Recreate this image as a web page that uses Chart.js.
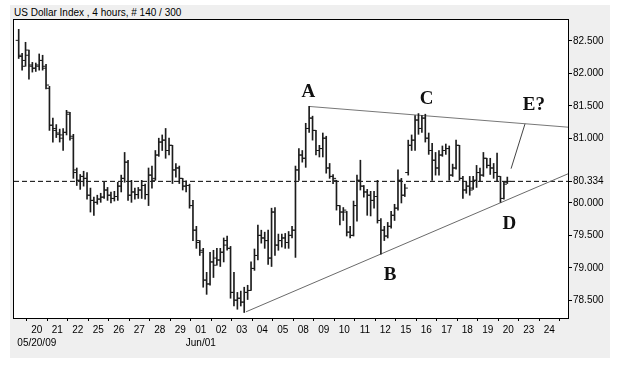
<!DOCTYPE html>
<html>
<head>
<meta charset="utf-8">
<script src="https://cdn.jsdelivr.net/npm/chart.js@4.4.0/dist/chart.umd.min.js"></script>
<style>
  html, body { margin: 0; padding: 0; background: #fff; }
  #wrap { position: relative; width: 617px; height: 365px; }
  #panel { position: absolute; left: 10px; top: 5px; width: 600px; height: 353px; background: #efefef; }
  #title { position: absolute; left: 14px; top: 7px; font: 10px "Liberation Sans", Arial, sans-serif; line-height: 12px; color: #000; white-space: pre; }
  canvas { position: absolute; left: 0; top: 0; }
</style>
</head>
<body>
<div id="wrap">
  <div id="panel"></div>
  <div id="title">US Dollar Index , 4 hours, # 140 / 300</div>
  <canvas id="c" width="617" height="365"></canvas>
</div>
<script>
// 4-hour OHLC bars, one entry per bar (oldest first)
const open = [
  82.51,82.26,82.20,82.28,82.11,82.08,82.11,82.20,82.08,81.77,
  81.20,81.12,81.06,81.00,81.09,81.37,81.00,80.47,80.35,80.41,
  80.38,80.12,80.04,80.01,80.06,80.09,80.20,80.12,80.07,80.10,
  80.26,80.38,80.63,80.12,80.17,80.13,80.20,80.27,80.13,80.43,
  80.38,80.74,80.94,80.97,80.81,80.89,80.51,80.54,80.38,80.26,
  80.27,79.96,79.58,79.39,79.24,78.81,78.75,79.09,79.15,79.12,
  79.24,79.42,79.30,78.62,78.50,78.53,78.47,78.62,78.65,78.99,
  79.19,79.50,79.46,79.42,79.15,79.86,79.35,79.42,79.46,79.39,
  79.50,79.58,80.51,80.74,80.69,81.15,81.31,81.12,80.81,80.84,
  81.00,80.54,80.41,80.35,79.96,79.86,79.86,79.55,79.50,79.96,
  80.35,80.26,80.17,80.12,80.04,80.10,79.73,79.58,79.49,79.64,
  79.81,79.92,80.35,80.12,80.47,80.89,80.97,81.28,81.15,81.31,
  81.00,80.81,80.66,80.54,80.74,80.81,80.84,80.43,80.54,80.89,
  80.38,80.20,80.26,80.23,80.35,80.47,80.43,80.69,80.58,80.54,
  80.47,80.41,80.07,80.32
];
const high = [
  82.68,82.31,82.48,82.36,82.17,82.16,82.30,82.28,82.14,81.80,
  81.31,81.21,81.14,81.15,81.43,81.40,81.06,80.54,80.44,80.49,
  80.47,80.23,80.09,80.12,80.15,80.32,80.24,80.17,80.18,80.32,
  80.43,80.78,80.66,80.35,80.23,80.24,80.35,80.29,80.54,80.57,
  80.81,81.00,81.05,81.15,81.00,80.89,80.61,80.57,80.38,80.34,
  80.29,80.04,79.64,79.42,79.30,78.93,79.24,79.27,79.30,79.30,
  79.46,79.49,79.33,78.93,78.62,78.64,78.70,78.73,79.09,79.29,
  79.66,79.58,79.55,79.58,79.92,79.93,79.52,79.52,79.53,79.56,
  79.64,80.57,80.84,80.81,81.23,81.49,81.34,81.12,80.89,81.08,
  81.03,80.61,80.44,80.35,79.96,79.93,79.87,79.64,80.03,80.43,
  80.66,80.27,80.21,80.18,80.18,80.35,79.76,79.64,79.70,79.87,
  79.98,80.51,80.38,80.29,80.97,81.05,81.35,81.38,81.35,81.37,
  81.08,80.92,80.78,80.81,80.88,80.91,80.88,80.60,80.97,80.89,
  80.41,80.32,80.41,80.41,80.58,80.54,80.78,80.69,80.69,80.61,
  80.77,80.41,80.33,80.40
];
const low = [
  82.23,82.05,82.11,81.91,82.02,82.03,82.05,82.05,81.76,81.12,
  80.94,81.01,80.94,80.81,81.05,80.97,80.38,80.27,80.21,80.26,
  80.06,79.86,79.81,79.98,80.01,80.07,80.04,80.00,80.03,80.04,
  80.17,80.32,80.04,80.01,80.06,80.07,80.07,80.06,79.96,80.23,
  80.35,80.72,80.81,80.69,80.74,80.30,80.40,80.30,80.20,80.17,
  79.92,79.42,79.30,79.19,78.70,78.59,78.73,78.85,79.04,79.02,
  79.09,79.27,78.53,78.41,78.36,78.41,78.31,78.51,78.65,78.96,
  79.12,79.38,79.30,79.05,79.02,79.19,79.27,79.32,79.30,79.30,
  79.46,79.16,80.35,80.63,80.55,81.09,80.97,80.74,80.71,80.71,
  80.46,80.38,80.30,79.89,79.66,79.73,79.49,79.46,79.49,79.72,
  80.20,80.09,79.81,79.80,79.92,79.69,79.21,79.42,79.46,79.61,
  79.73,79.89,80.00,80.10,80.43,80.81,80.81,81.06,81.09,80.94,
  80.75,80.35,80.43,80.43,80.72,80.75,80.35,80.41,80.52,80.35,
  80.07,80.15,80.12,80.21,80.24,80.33,80.41,80.54,80.44,80.38,
  80.33,80.01,80.06,80.30
];
const close = [
  82.28,82.11,82.36,82.13,82.08,82.13,82.20,82.11,81.82,81.20,
  81.15,81.08,81.05,81.09,81.40,81.03,80.51,80.35,80.41,80.38,
  80.12,80.04,80.01,80.06,80.09,80.20,80.12,80.07,80.10,80.26,
  80.38,80.63,80.12,80.17,80.13,80.20,80.27,80.13,80.43,80.35,
  80.74,80.94,80.97,80.81,80.89,80.51,80.54,80.38,80.26,80.27,
  79.96,79.58,79.42,79.27,78.81,78.75,79.09,79.04,79.12,79.24,
  79.35,79.30,78.62,78.50,78.53,78.47,78.62,78.65,78.99,79.19,
  79.50,79.46,79.42,79.15,79.86,79.35,79.42,79.46,79.39,79.50,
  79.58,80.51,80.74,80.69,81.15,81.31,81.12,80.81,80.84,81.00,
  80.54,80.41,80.38,79.96,79.86,79.89,79.55,79.50,79.96,80.35,
  80.26,80.17,80.12,80.04,80.10,79.73,79.58,79.49,79.64,79.81,
  79.92,80.35,80.12,80.23,80.89,80.97,81.28,81.15,81.31,81.00,
  80.81,80.66,80.54,80.74,80.81,80.84,80.43,80.54,80.89,80.38,
  80.20,80.26,80.20,80.35,80.47,80.43,80.69,80.58,80.54,80.47,
  80.41,80.07,80.29,80.334
];

// Time axis: trading days, six 4-hour bars per day
const dayLabels = ['20','21','22','25','26','27','28','29','01','02','03','04','05',
                   '08','09','10','11','12','15','16','17','18','19','20','23','24'];
const dateLabels = { 0: '05/20/09', 8: 'Jun/01' };
const barsPerDay = 6;
const firstDayPos = 5.3;
const xMin = -1.375;
const xMax = 160.76;

// Price axis
const yTicks = [78.5, 79, 79.5, 80, 80.334, 81, 81.5, 82, 82.5];
const yMin = 78.225;
const yMax = 82.824;
const lastPrice = 80.334;

// Triangle boundaries and projected E leg: [bar position, price]
const upperLine = [[85, 81.49], [160.76, 81.17]];
const lowerLine = [[66.5, 78.32], [160.76, 80.45]];
const eLegLine  = [[144.1, 80.53], [148.2, 81.225]];

// Wave labels
const waveLabels = ['A', 'B', 'C', 'D', 'E?'];
const waveX = [84.75, 108.66, 119.4, 143.6, 150.75];
const waveY = [81.71, 78.88, 81.60, 79.68, 81.51];

const FONT = '"Liberation Sans", Arial, sans-serif';
const BAR_COLOR = '#1c1c1c';
const TICK_OFFSET = 0.45;

const toPoints = arr => arr.map(([x, y]) => ({ x, y }));

const ranges = high.map((h, i) => ({ x: i, y: [low[i], h] }));
const openTicks = open.map((v, i) => ({ x: i - TICK_OFFSET, y: v }));
const closeTicks = close.map((v, i) => ({ x: i + TICK_OFFSET, y: v }));

const tickDataset = (data) => ({
  type: 'line',
  data,
  showLine: false,
  pointStyle: 'line',
  pointRadius: 1.5,
  pointHoverRadius: 1.5,
  pointBorderWidth: 1,
  pointBorderColor: BAR_COLOR,
  pointBackgroundColor: BAR_COLOR
});

const lineDataset = (data, color, dash) => ({
  type: 'line',
  data,
  borderColor: color,
  borderWidth: 1,
  borderDash: dash || [],
  pointRadius: 0,
  pointHoverRadius: 0,
  fill: false,
  tension: 0
});

// White plot background and black frame around it
const framePlugin = {
  id: 'frame',
  beforeDraw(chart) {
    const { ctx, chartArea: a } = chart;
    ctx.save();
    ctx.fillStyle = '#fff';
    ctx.fillRect(a.left, a.top, a.right - a.left, a.bottom - a.top);
    ctx.restore();
  },
  afterDraw(chart) {
    const { ctx, chartArea: a } = chart;
    ctx.save();
    ctx.strokeStyle = '#000';
    ctx.lineWidth = 1;
    ctx.strokeRect(a.left - 0.5, a.top - 0.5, a.right - a.left + 1, a.bottom - a.top + 1);
    ctx.restore();
  }
};

// Elliott wave letters placed in data coordinates
const wavePlugin = {
  id: 'waves',
  afterDatasetsDraw(chart) {
    const { ctx, scales } = chart;
    ctx.save();
    ctx.font = 'bold 19px "Liberation Serif", "Times New Roman", serif';
    ctx.fillStyle = '#111';
    ctx.textAlign = 'center';
    ctx.textBaseline = 'middle';
    waveLabels.forEach((t, k) => {
      ctx.fillText(t, scales.x.getPixelForValue(waveX[k]), scales.y.getPixelForValue(waveY[k]));
    });
    ctx.restore();
  }
};

new Chart(document.getElementById('c'), {
  type: 'bar',
  data: {
    datasets: [
      {
        type: 'bar',
        data: ranges,
        backgroundColor: BAR_COLOR,
        borderWidth: 0,
        barThickness: 1,
        grouped: false
      },
      tickDataset(openTicks),
      tickDataset(closeTicks),
      lineDataset(toPoints(upperLine), '#777'),
      lineDataset(toPoints(lowerLine), '#6a6a6a'),
      lineDataset(toPoints(eLegLine), '#444'),
      lineDataset([{ x: xMin, y: lastPrice }, { x: xMax, y: lastPrice }], '#000', [5, 3])
    ]
  },
  options: {
    responsive: false,
    animation: false,
    events: [],
    layout: { padding: { left: 14, top: 20, right: 7, bottom: 0 } },
    plugins: { legend: { display: false }, tooltip: { enabled: false }, title: { display: false } },
    scales: {
      x: {
        type: 'linear',
        min: xMin,
        max: xMax,
        offset: false,
        afterFit: s => { s.height = 47; },
        afterBuildTicks: s => {
          s.ticks = dayLabels.map((_, k) => ({ value: firstDayPos + barsPerDay * k }));
        },
        grid: { drawOnChartArea: false, drawTicks: true, tickLength: 3, color: '#000' },
        border: { display: false },
        ticks: {
          autoSkip: false,
          maxRotation: 0,
          minRotation: 0,
          padding: 2,
          color: '#000',
          font: { family: FONT, size: 10, lineHeight: 1.35 },
          callback: (v, k) => dateLabels[k] ? [dayLabels[k], dateLabels[k]] : dayLabels[k]
        }
      },
      y: {
        type: 'linear',
        position: 'right',
        min: yMin,
        max: yMax,
        afterFit: s => { s.width = 42; },
        afterBuildTicks: s => { s.ticks = yTicks.map(v => ({ value: v })); },
        grid: { drawOnChartArea: false, drawTicks: true, tickLength: 4, color: '#000' },
        border: { display: false },
        ticks: {
          autoSkip: false,
          padding: 1,
          color: '#000',
          font: { family: FONT, size: 10 },
          callback: v => Number(v).toFixed(3)
        }
      }
    }
  },
  plugins: [framePlugin, wavePlugin]
});
</script>
</body>
</html>
